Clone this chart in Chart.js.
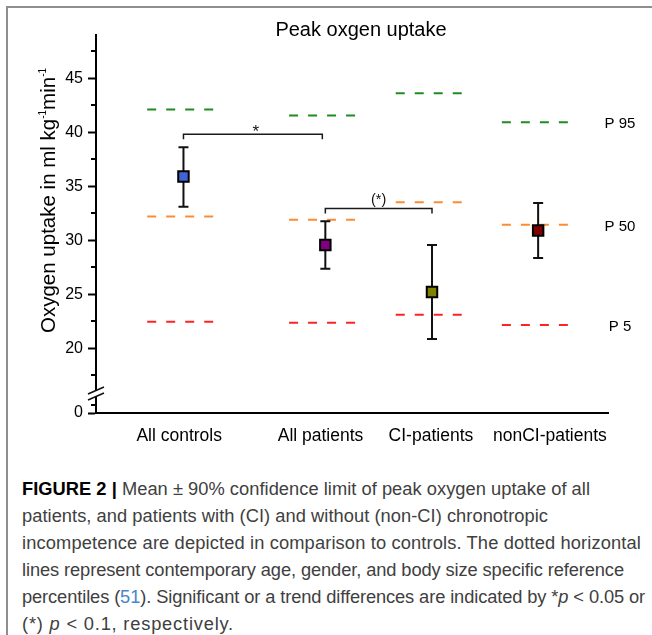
<!DOCTYPE html>
<html>
<head>
<meta charset="utf-8">
<script src="https://cdn.jsdelivr.net/npm/chart.js@4.4.1/dist/chart.umd.min.js"></script>
<style>
html,body{margin:0;padding:0;background:#fff;width:652px;height:635px;overflow:hidden;}
#frame{position:absolute;left:6px;top:6px;width:700px;height:700px;border-left:2px solid #8e8e8e;border-top:2px solid #8e8e8e;}
#wrap{position:absolute;left:0;top:0;width:652px;height:470px;}
#caption{position:absolute;left:22px;top:475px;font-family:"Liberation Sans",Arial,sans-serif;font-size:18.3px;line-height:27px;color:#404040;white-space:nowrap;}
#caption .ln{display:block;height:27px;}
#caption .ln span.t{display:inline-block;}
#caption b{color:#000;}
#caption .ref{color:#4a86c8;}
</style>
</head>
<body>
<div id="frame"></div>
<div id="wrap"><canvas id="c" width="652" height="470"></canvas></div>
<div id="caption">
<div class="ln"><span class="t" data-w="568"><b>FIGURE 2 |</b> Mean ± 90% confidence limit of peak oxygen uptake of all</span></div>
<div class="ln"><span class="t" data-w="526">patients, and patients with (CI) and without (non-CI) chronotropic</span></div>
<div class="ln"><span class="t" data-w="619">incompetence are depicted in comparison to controls. The dotted horizontal</span></div>
<div class="ln"><span class="t" data-w="602">lines represent contemporary age, gender, and body size specific reference</span></div>
<div class="ln"><span class="t" data-w="623">percentiles (<span class="ref">51</span>). Significant or a trend differences are indicated by *<i>p</i> &lt; 0.05 or</span></div>
<div class="ln"><span class="t" data-w="212">(*) <i>p</i> &lt; 0.1, respectively.</span></div>
</div>
<script>
// ---------------- data ----------------
const chartTitle = 'Peak oxgen uptake';
const groups = ['All controls', 'All patients', 'CI-patients', 'nonCI-patients'];
const groupX = [0.82, 2.15, 3.15, 4.145];      // x position of each group on the linear x axis
const labelX = [0.78, 2.105, 3.14, 4.255];     // x position of each category label
const means  = [35.9, 29.55, 25.2, 30.9];
const ciLow  = [33.1, 27.35, 20.85, 28.35];
const ciHigh = [38.6, 31.75, 29.55, 33.45];
const p95 = [42.1, 41.55, 43.6, 40.93];
const p50 = [32.2, 31.9, 33.52, 31.42];
const p5  = [22.45, 22.35, 23.1, 22.15];
const percentileNames = ['P 95', 'P 50', 'P 5'];
const yMajorTicks = [20, 25, 30, 35, 40, 45];
const yMinorTicks = [17.5, 22.5, 27.5, 32.5, 37.5, 42.5, 47.5];
const bracketPairs = [[0, 1], [1, 2]];
const bracketY = [39.8, 32.93];
const bracketText = ['*', '(*)'];

// ------------- styling / axis geometry -------------
const FONT = '"Liberation Sans", Arial, sans-serif';
const markerColors = ['#4263d6', '#800080', '#808000', '#800000'];
const pctColors = ['#1e8c1e', '#fb8c34', '#ff2222'];
const Y_MIN = 14, Y_MAX = 49;        // axis is broken: its bottom end stands for 0
const Y_LOW_MINOR = [14.7];
const Y_BREAK = 15.8;

// fit caption lines to the reference line lengths
document.querySelectorAll('#caption span.t').forEach(el => {
  const target = parseFloat(el.dataset.w);
  const w = el.getBoundingClientRect().width;
  const n = el.textContent.length;
  el.style.letterSpacing = ((target - w) / n).toFixed(3) + 'px';
});

Chart.defaults.font.family = FONT;

const datasets = [{
  label: 'Mean',
  data: groups.map((g, i) => ({x: groupX[i], y: means[i]})),
  pointStyle: 'rect',
  pointRadius: 7.4,
  pointHoverRadius: 7.4,
  pointBackgroundColor: markerColors,
  pointBorderColor: '#000',
  pointBorderWidth: 2,
  showLine: false
}];
[p95, p50, p5].forEach((arr, k) => {
  arr.forEach((v, i) => {
    datasets.push({
      label: percentileNames[k] + ' ' + groups[i],
      data: [{x: groupX[i] - 0.34, y: v}, {x: groupX[i] + 0.28, y: v}],
      showLine: true,
      borderColor: pctColors[k],
      borderWidth: 2,
      borderDash: [9, 10],
      borderCapStyle: 'butt',
      pointRadius: 0,
      pointHoverRadius: 0
    });
  });
});

const custom = {
  id: 'custom',
  beforeDatasetDraw(chart, args) {
    if (args.index !== 0) return;
    const {ctx, scales: {x, y}} = chart;
    ctx.save();
    ctx.strokeStyle = '#111';
    ctx.lineWidth = 2;
    groups.forEach((g, i) => {
      const px = x.getPixelForValue(groupX[i]);
      const yl = y.getPixelForValue(ciLow[i]);
      const yh = y.getPixelForValue(ciHigh[i]);
      ctx.beginPath();
      ctx.moveTo(px, yl); ctx.lineTo(px, yh);
      ctx.moveTo(px - 5, yl); ctx.lineTo(px + 5, yl);
      ctx.moveTo(px - 5, yh); ctx.lineTo(px + 5, yh);
      ctx.stroke();
    });
    ctx.restore();
  },
  afterDatasetsDraw(chart) {
    const {ctx, scales: {x, y}} = chart;
    ctx.save();
    ctx.strokeStyle = '#1a1a1a';
    ctx.fillStyle = '#111';
    ctx.lineWidth = 1.5;
    ctx.textAlign = 'center';
    bracketPairs.forEach(([a, b], k) => {
      const x1 = x.getPixelForValue(groupX[a]);
      const x2 = x.getPixelForValue(groupX[b]) - (k === 0 ? 3 : 0);
      const yy = y.getPixelForValue(bracketY[k]);
      ctx.beginPath();
      ctx.moveTo(x1, yy + 5); ctx.lineTo(x1, yy); ctx.lineTo(x2, yy); ctx.lineTo(x2, yy + 5);
      ctx.stroke();
      ctx.textBaseline = 'alphabetic';
      if (bracketText[k] === '*') {
        ctx.font = '17px ' + FONT;
        ctx.fillText(bracketText[k], (x1 + x2) / 2 + 3, yy + 2.5);
      } else {
        ctx.font = '14.5px ' + FONT;
        ctx.fillText(bracketText[k], (x1 + x2) / 2, yy - 5);
      }
    });
    ctx.restore();
  },
  afterDraw(chart) {
    const {ctx, scales: {x, y}, chartArea} = chart;
    ctx.save();
    // title
    ctx.fillStyle = '#000';
    ctx.font = '20px ' + FONT;
    ctx.textAlign = 'center';
    ctx.textBaseline = 'alphabetic';
    ctx.fillText(chartTitle, 361, 36);
    // y-axis title with superscripts
    const parts = [['Oxygen uptake in ml kg', false], ['-1', true], ['min', false], ['-1', true]];
    const mainF = '20.5px ' + FONT, supF = '10px ' + FONT;
    let total = 0;
    parts.forEach(p => { ctx.font = p[1] ? supF : mainF; total += ctx.measureText(p[0]).width; });
    ctx.translate(55, 200.5);
    ctx.rotate(-Math.PI / 2);
    ctx.textAlign = 'left';
    let cx = -total / 2;
    parts.forEach(p => {
      ctx.font = p[1] ? supF : mainF;
      ctx.fillText(p[0], cx, p[1] ? -9 : 0);
      cx += ctx.measureText(p[0]).width;
    });
    ctx.setTransform(1, 0, 0, 1, 0, 0);
    // minor ticks
    const ax = chartArea.left;
    ctx.strokeStyle = '#000';
    ctx.lineWidth = 2;
    [...yMinorTicks, ...Y_LOW_MINOR].forEach(v => {
      const py = Math.round(y.getPixelForValue(v));
      ctx.beginPath(); ctx.moveTo(ax - 5, py); ctx.lineTo(ax, py); ctx.stroke();
    });
    // axis break
    const yb = y.getPixelForValue(Y_BREAK);
    ctx.fillStyle = '#fff';
    ctx.fillRect(ax - 2, yb - 3, 4, 6);
    ctx.lineWidth = 1.5;
    ctx.strokeStyle = '#111';
    ctx.beginPath();
    ctx.moveTo(ax - 8, yb + 0.5); ctx.lineTo(ax + 8, yb - 6.5);
    ctx.moveTo(ax - 8, yb + 6.5); ctx.lineTo(ax + 8, yb - 0.5);
    ctx.stroke();
    // percentile labels at the right
    ctx.fillStyle = '#000';
    ctx.font = '15px ' + FONT;
    ctx.textAlign = 'center';
    ctx.textBaseline = 'middle';
    const last = groups.length - 1;
    [p95, p50, p5].forEach((arr, k) => {
      ctx.fillText(percentileNames[k], x.right + 12, y.getPixelForValue(arr[last]) + 1.5);
    });
    ctx.restore();
  }
};

new Chart(document.getElementById('c'), {
  type: 'scatter',
  data: {datasets},
  plugins: [custom],
  options: {
    responsive: false,
    animation: false,
    devicePixelRatio: 1,
    layout: {padding: {top: 35, right: 44, left: 0, bottom: 0}},
    plugins: {legend: {display: false}, tooltip: {enabled: false}, title: {display: false}},
    scales: {
      x: {
        type: 'linear', min: 0, max: 4.8,
        afterBuildTicks: s => { s.ticks = labelX.map(v => ({value: v})); },
        afterFit: s => { s.height = 57; },
        ticks: {
          autoSkip: false, maxRotation: 0, padding: 13,
          color: '#000', font: {size: 17.5},
          callback: (v, i) => groups[i]
        },
        grid: {display: false, drawTicks: false},
        border: {display: true, color: '#000', width: 2}
      },
      y: {
        type: 'linear', min: Y_MIN, max: Y_MAX,
        afterBuildTicks: s => { s.ticks = [Y_MIN, ...yMajorTicks].map(v => ({value: v})); },
        afterFit: s => { s.width = 96; },
        ticks: {
          autoSkip: false, padding: 5, color: '#000', font: {size: 16},
          callback: v => (v === Y_MIN ? '0' : String(v))
        },
        grid: {display: true, drawOnChartArea: false, drawTicks: true, tickLength: 8, tickWidth: 2, tickColor: '#000'},
        border: {display: true, color: '#000', width: 2}
      }
    }
  }
});
</script>
</body>
</html>
